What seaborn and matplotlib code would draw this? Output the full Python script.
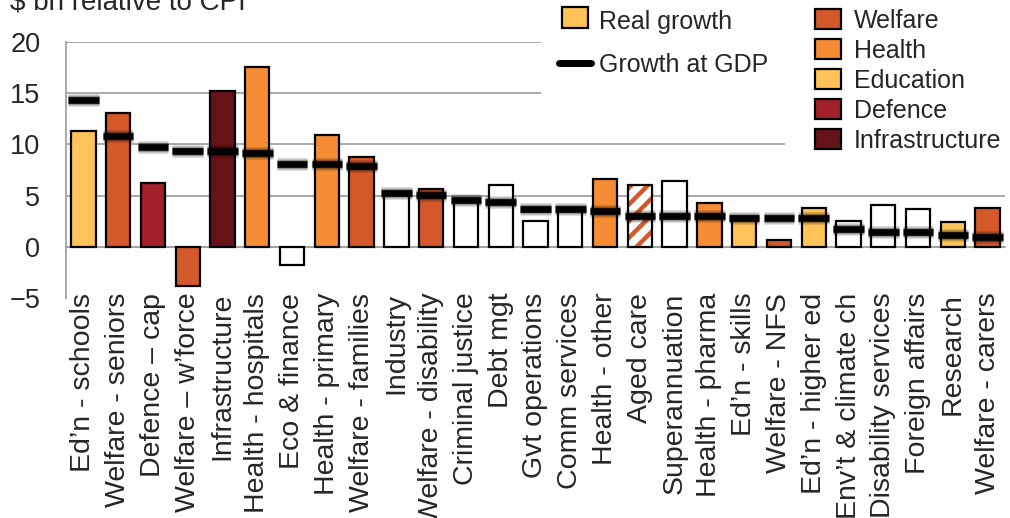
import numpy as np
import pandas as pd
import matplotlib
matplotlib.use("Agg")
import matplotlib.pyplot as plt
import matplotlib.patheffects as pe
from matplotlib.patches import Patch, Rectangle
from matplotlib.lines import Line2D
from matplotlib.legend_handler import HandlerPatch
import seaborn as sns

# Spending programs, ordered by growth-at-GDP gap
categories = [
    "Ed’n - schools", "Welfare - seniors", "Defence – cap", "Welfare – w’force",
    "Infrastructure", "Health - hospitals", "Eco & finance", "Health - primary",
    "Welfare - families", "Industry", "Welfare - disability", "Criminal justice",
    "Debt mgt", "Gvt operations", "Comm services", "Health - other", "Aged care",
    "Superannuation", "Health - pharma", "Ed’n - skills", "Welfare - NFS",
    "Ed’n - higher ed", "Env’t & climate ch", "Disability services",
    "Foreign affairs", "Research", "Welfare - carers",
]
# Real growth in $ bn relative to CPI
real_growth = [11.3, 13.1, 6.2, -3.8, 15.2, 17.6, -1.8, 10.9, 8.8, 5.2, 5.6,
               4.6, 6.0, 2.5, 3.6, 6.6, 6.0, 6.4, 4.25, 2.9, 0.65, 3.75, 2.5,
               4.1, 3.7, 2.45, 3.75]
# Growth if spending grew in line with GDP
gdp_growth = [14.3, 10.8, 9.7, 9.4, 9.4, 9.2, 8.05, 8.05, 7.9, 5.3, 5.05, 4.6,
              4.4, 3.7, 3.7, 3.5, 3.0, 3.0, 3.0, 2.85, 2.85, 2.8, 1.75, 1.45,
              1.45, 1.2, 1.0]
# Portfolio group of each program
groups = ["Education", "Welfare", "Defence", "Welfare", "Infrastructure",
          "Health", "Other", "Health", "Welfare", "Other", "Welfare", "Other",
          "Other", "Other", "Other", "Health", "Aged", "Other", "Health",
          "Education", "Welfare", "Education", "Other", "Other", "Other",
          "Education", "Welfare"]
legend_groups = ["Welfare", "Health", "Education", "Defence", "Infrastructure"]

group_colors = {
    "Welfare": "#D5582A",
    "Health": "#F68C33",
    "Education": "#FFC35A",
    "Defence": "#A1202A",
    "Infrastructure": "#651318",
    "Other": "#FFFFFF",
    "Aged": "#FFFFFF",
}

sns.set_style("white")
plt.rcParams["font.family"] = ["Liberation Sans", "DejaVu Sans"]
plt.rcParams["hatch.linewidth"] = 3.2

W, H = 1010, 518
fig = plt.figure(figsize=(W / 100, H / 100), dpi=100)
ax = fig.add_axes([66 / W, 1 - 298 / H, (1005 - 66) / W, 256 / H])

df = pd.DataFrame({"program": categories, "real": real_growth,
                   "gdp": gdp_growth, "group": groups})
palette = {c: group_colors[g] for c, g in zip(categories, groups)}

grid_grey = "#A3A3A3"
sns.barplot(data=df, x="program", y="real", hue="program", palette=palette,
            legend=False, width=0.7, saturation=1, edgecolor="black",
            linewidth=1.6, ax=ax, zorder=3)

# Aged care shown as a striped bar
for p, g in zip(ax.patches, groups):
    if g == "Aged":
        p.set_facecolor("white")
        p.set_edgecolor(group_colors["Welfare"])
        p.set_hatch("//")
        p.set_linewidth(0)
        ax.add_patch(Rectangle(p.get_xy(), p.get_width(), p.get_height(),
                               fill=False, edgecolor="black", linewidth=1.6,
                               zorder=3.5))

# Growth-at-GDP markers
xpos = np.arange(len(categories))
ax.hlines(df["gdp"], xpos - 0.44, xpos + 0.44, color="black", linewidth=4.8,
          zorder=5,
          path_effects=[pe.Stroke(linewidth=9, foreground="black", alpha=0.18),
                        pe.Stroke(linewidth=6.8, foreground="black", alpha=0.3),
                        pe.Normal()])

ax.set_xlim(-0.5, len(categories) - 0.5)
ax.set_ylim(-5, 20)
ax.set_yticks([-5, 0, 5, 10, 15, 20])
ax.set_xlabel("")
ax.set_ylabel("")

ax.yaxis.grid(True, color=grid_grey, linewidth=1.3, zorder=0)
ax.get_ygridlines()[0].set_visible(False)
ax.set_axisbelow(True)

for s in ["top", "right"]:
    ax.spines[s].set_visible(False)
ax.spines["left"].set_color(grid_grey)
ax.spines["left"].set_linewidth(1.3)
ax.spines["bottom"].set_position(("data", 0))
ax.spines["bottom"].set_color(grid_grey)
ax.spines["bottom"].set_linewidth(1.3)
ax.spines["bottom"].set_zorder(2)

ax.set_xticks(np.arange(len(categories) + 1) - 0.5, minor=True)
ax.tick_params(axis="x", which="major", length=0, pad=33, labelsize=20.5,
               labelrotation=90)
ax.tick_params(axis="x", which="minor", length=4.5, width=1.3,
               color=grid_grey, direction="out")
ax.tick_params(axis="y", length=6.5, width=1.3, color=grid_grey, pad=12,
               labelsize=19.5)
for lab in ax.get_xticklabels():
    lab.set_ha("center")
    lab.set_va("top")

fig.text(10 / W, 1 - 10 / H, "$ bn relative to CPI", fontsize=20,
         ha="left", va="baseline")


def narrow_patch(legend, orig_handle, xdescent, ydescent, width, height,
                 fontsize):
    w = 26 * 0.72
    h = 21 * 0.72
    return Rectangle((xdescent + (width - w) / 2, ydescent + (height - h) / 2),
                     w, h)


# Series legend
leg1 = fig.legend(
    handles=[Patch(facecolor=group_colors["Education"], edgecolor="black",
                   linewidth=1.6),
             Line2D([], [], color="black", linewidth=5)],
    labels=["Real growth", "Growth at GDP"],
    loc="upper left", bbox_to_anchor=(541 / W, 1 + 8 / H),
    fontsize=18, frameon=True, facecolor="white", edgecolor="none",
    framealpha=1, fancybox=False, borderpad=0.7, borderaxespad=0,
    handlelength=1.3, handleheight=0.85, handletextpad=0.33, labelspacing=0.8,
    handler_map={Patch: HandlerPatch(patch_func=narrow_patch)})

# Portfolio legend
leg2 = fig.legend(
    handles=[Patch(facecolor=group_colors[g], edgecolor="black",
                   linewidth=1.6) for g in legend_groups],
    labels=legend_groups,
    loc="upper left", bbox_to_anchor=(785 / W, 1 + 21 / H),
    fontsize=18, frameon=True, facecolor="white", edgecolor="none",
    framealpha=1, fancybox=False, borderpad=1.2, borderaxespad=0,
    handlelength=1.05, handleheight=0.85, handletextpad=0.5,
    labelspacing=0.24)

fig.savefig("out.png", dpi=100)
